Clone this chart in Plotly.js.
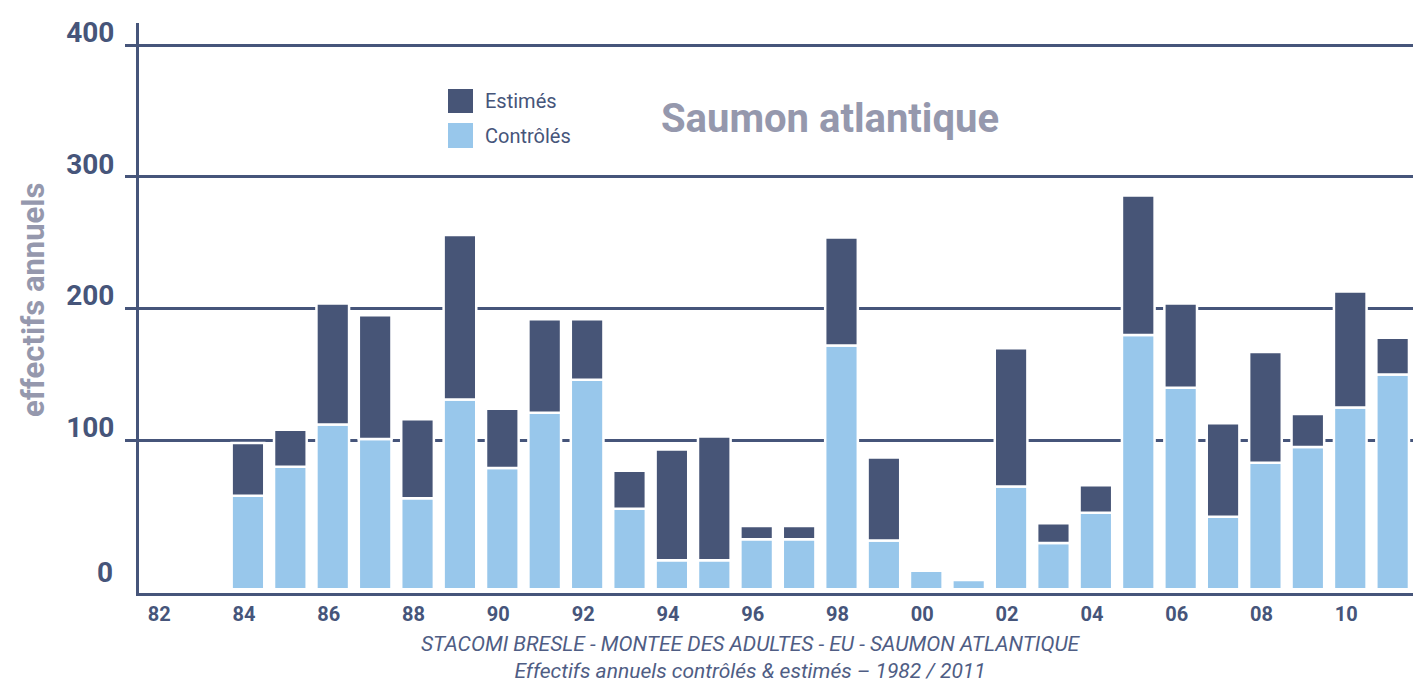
<!DOCTYPE html>
<html>
<head>
<meta charset="utf-8">
<script src="https://cdn.plot.ly/plotly-3.0.1.min.js"></script>
<style>
  html, body { margin: 0; padding: 0; background: #ffffff; }
  #chart { width: 1413px; height: 683px; }
</style>
</head>
<body>
<div id="chart"></div>
<script>
// ---- Data ----
const years = [1984, 1985, 1986, 1987, 1988, 1989, 1990, 1991, 1992, 1993,
               1994, 1995, 1996, 1997, 1998, 1999, 2000, 2001, 2002, 2003,
               2004, 2005, 2006, 2007, 2008, 2009, 2010, 2011];
// bar heights measured from the bar floor
const controles = [71, 93, 125, 114, 69, 144, 92, 134, 159, 61,
                   22, 22, 38, 38, 185, 37, 14, 7, 78, 35,
                   58, 193, 153, 55, 96, 108, 138, 163];
const estimes = [111, 121, 217, 208, 129, 269, 137, 205, 205, 90,
                 106, 116, 48, 48, 267, 100, 14, 7, 183, 50,
                 79, 299, 217, 126, 180, 133, 226, 191];
const seriesNames = ['Estimés', 'Contrôlés'];
const xTickYears = [1982, 1984, 1986, 1988, 1990, 1992, 1994, 1996, 1998, 2000, 2002, 2004, 2006, 2008, 2010];
const xTickLabels = ['82', '84', '86', '88', '90', '92', '94', '96', '98', '00', '02', '04', '06', '08', '10'];
const yTickValues = [0, 100, 200, 300, 400];
const yTickLabels = ['0', '100', '200', '300', '400'];
const chartTitle = 'Saumon atlantique';
const yTitle = 'effectifs annuels';
const footer1 = 'STACOMI BRESLE - MONTEE DES ADULTES - EU - SAUMON ATLANTIQUE';
const footer2 = 'Effectifs annuels contrôlés &amp; estimés – 1982 / 2011';

// ---- Style ----
const NAVY = '#46557a';
const DARK = '#475577';
const LIGHT = '#98c7eb';
const GREY = '#9598ad';
const FONT = 'Roboto, "Open Sans", sans-serif';
const BAR_FLOOR = -13;   // bars start slightly below the 0 label, as in the reference
const Y_RANGE = [-15.9, 416.9];
const X_RANGE = [1981.43, 2011.48];

const traceControles = {
  type: 'bar',
  name: seriesNames[1],
  x: years,
  y: controles,
  base: BAR_FLOOR,
  width: 0.77,
  marker: { color: LIGHT, line: { color: '#ffffff', width: 2.5 } },
  hoverinfo: 'x+name'
};
const traceEstimes = {
  type: 'bar',
  name: seriesNames[0],
  x: years,
  y: estimes.map((v, i) => (v - controles[i]) > 0 ? v - controles[i] : null),
  base: controles.map(v => v + BAR_FLOOR),
  width: 0.77,
  marker: { color: DARK, line: { color: '#ffffff', width: 2.5 } },
  hoverinfo: 'x+name'
};

const W = 1413, H = 683;
const M = { l: 139, r: 0, t: 23, b: 90 };
const plotW = W - M.l - M.r, plotH = H - M.t - M.b;
const px2paperX = px => (px - M.l) / plotW;
const px2paperY = py => (H - M.b - py) / plotH;

const shapes = [
  { type: 'rect', xref: 'paper', yref: 'paper',
    x0: px2paperX(448), x1: px2paperX(473), y0: px2paperY(113), y1: px2paperY(89),
    fillcolor: DARK, line: { width: 0 } },
  { type: 'rect', xref: 'paper', yref: 'paper',
    x0: px2paperX(448), x1: px2paperX(473), y0: px2paperY(148), y1: px2paperY(123),
    fillcolor: LIGHT, line: { width: 0 } }
];

const annotations = [
  { xref: 'paper', yref: 'paper', x: px2paperX(483), y: px2paperY(101), xanchor: 'left', yanchor: 'middle',
    text: seriesNames[0], showarrow: false, font: { family: FONT, size: 20, color: NAVY } },
  { xref: 'paper', yref: 'paper', x: px2paperX(483), y: px2paperY(136), xanchor: 'left', yanchor: 'middle',
    text: seriesNames[1], showarrow: false, font: { family: FONT, size: 20, color: NAVY } },
  { xref: 'paper', yref: 'y', x: px2paperX(115), y: yTickValues[0], xanchor: 'right', yanchor: 'middle',
    text: yTickLabels[0], showarrow: false, font: { family: FONT, size: 28, color: NAVY, weight: 700 } },
  { xref: 'paper', yref: 'paper', x: px2paperX(751), y: px2paperY(657), xanchor: 'center', yanchor: 'middle',
    align: 'center', borderpad: 0,
    text: '<i>' + footer1 + '<br>' + footer2 + '</i>', showarrow: false,
    font: { family: FONT, size: 21, color: '#4f5d84' } },
  { xref: 'paper', yref: 'paper', x: px2paperX(33), y: px2paperY(300), xanchor: 'center', yanchor: 'middle',
    text: yTitle, textangle: -90, showarrow: false, font: { family: FONT, size: 31, color: GREY, weight: 700 } }
];

const layout = {
  width: W, height: H,
  margin: M,
  paper_bgcolor: '#ffffff',
  plot_bgcolor: '#ffffff',
  barmode: 'overlay',
  showlegend: false,
  title: {
    text: chartTitle,
    x: 830 / W, xanchor: 'center',
    y: 1 - 118 / H, yanchor: 'middle',
    font: { family: FONT, size: 40, color: GREY, weight: 700 }
  },
  xaxis: {
    range: X_RANGE,
    tickmode: 'array',
    tickvals: xTickYears,
    ticktext: xTickLabels,
    ticks: '',
    showgrid: false,
    zeroline: false,
    showline: true,
    linecolor: NAVY,
    linewidth: 3,
    ticklabelshift: -4,
    ticklabelstandoff: 1,
    tickfont: { family: FONT, size: 20, color: NAVY, weight: 700 },
    fixedrange: true
  },
  yaxis: {
    range: Y_RANGE,
    tickmode: 'array',
    tickvals: yTickValues.slice(1),
    ticktext: yTickLabels.slice(1),
    ticks: 'outside',
    ticklen: 11,
    tickwidth: 3,
    tickcolor: NAVY,
    showgrid: true,
    gridcolor: NAVY,
    gridwidth: 3,
    zeroline: false,
    showline: true,
    linecolor: NAVY,
    linewidth: 3,
    ticklabelshift: -13,
    ticklabelstandoff: 5,
    tickfont: { family: FONT, size: 28, color: NAVY, weight: 700 },
    fixedrange: true
  },
  shapes: shapes,
  annotations: annotations
};

Plotly.newPlot('chart', [traceControles, traceEstimes], layout, { displayModeBar: false, staticPlot: true });
</script>
</body>
</html>
